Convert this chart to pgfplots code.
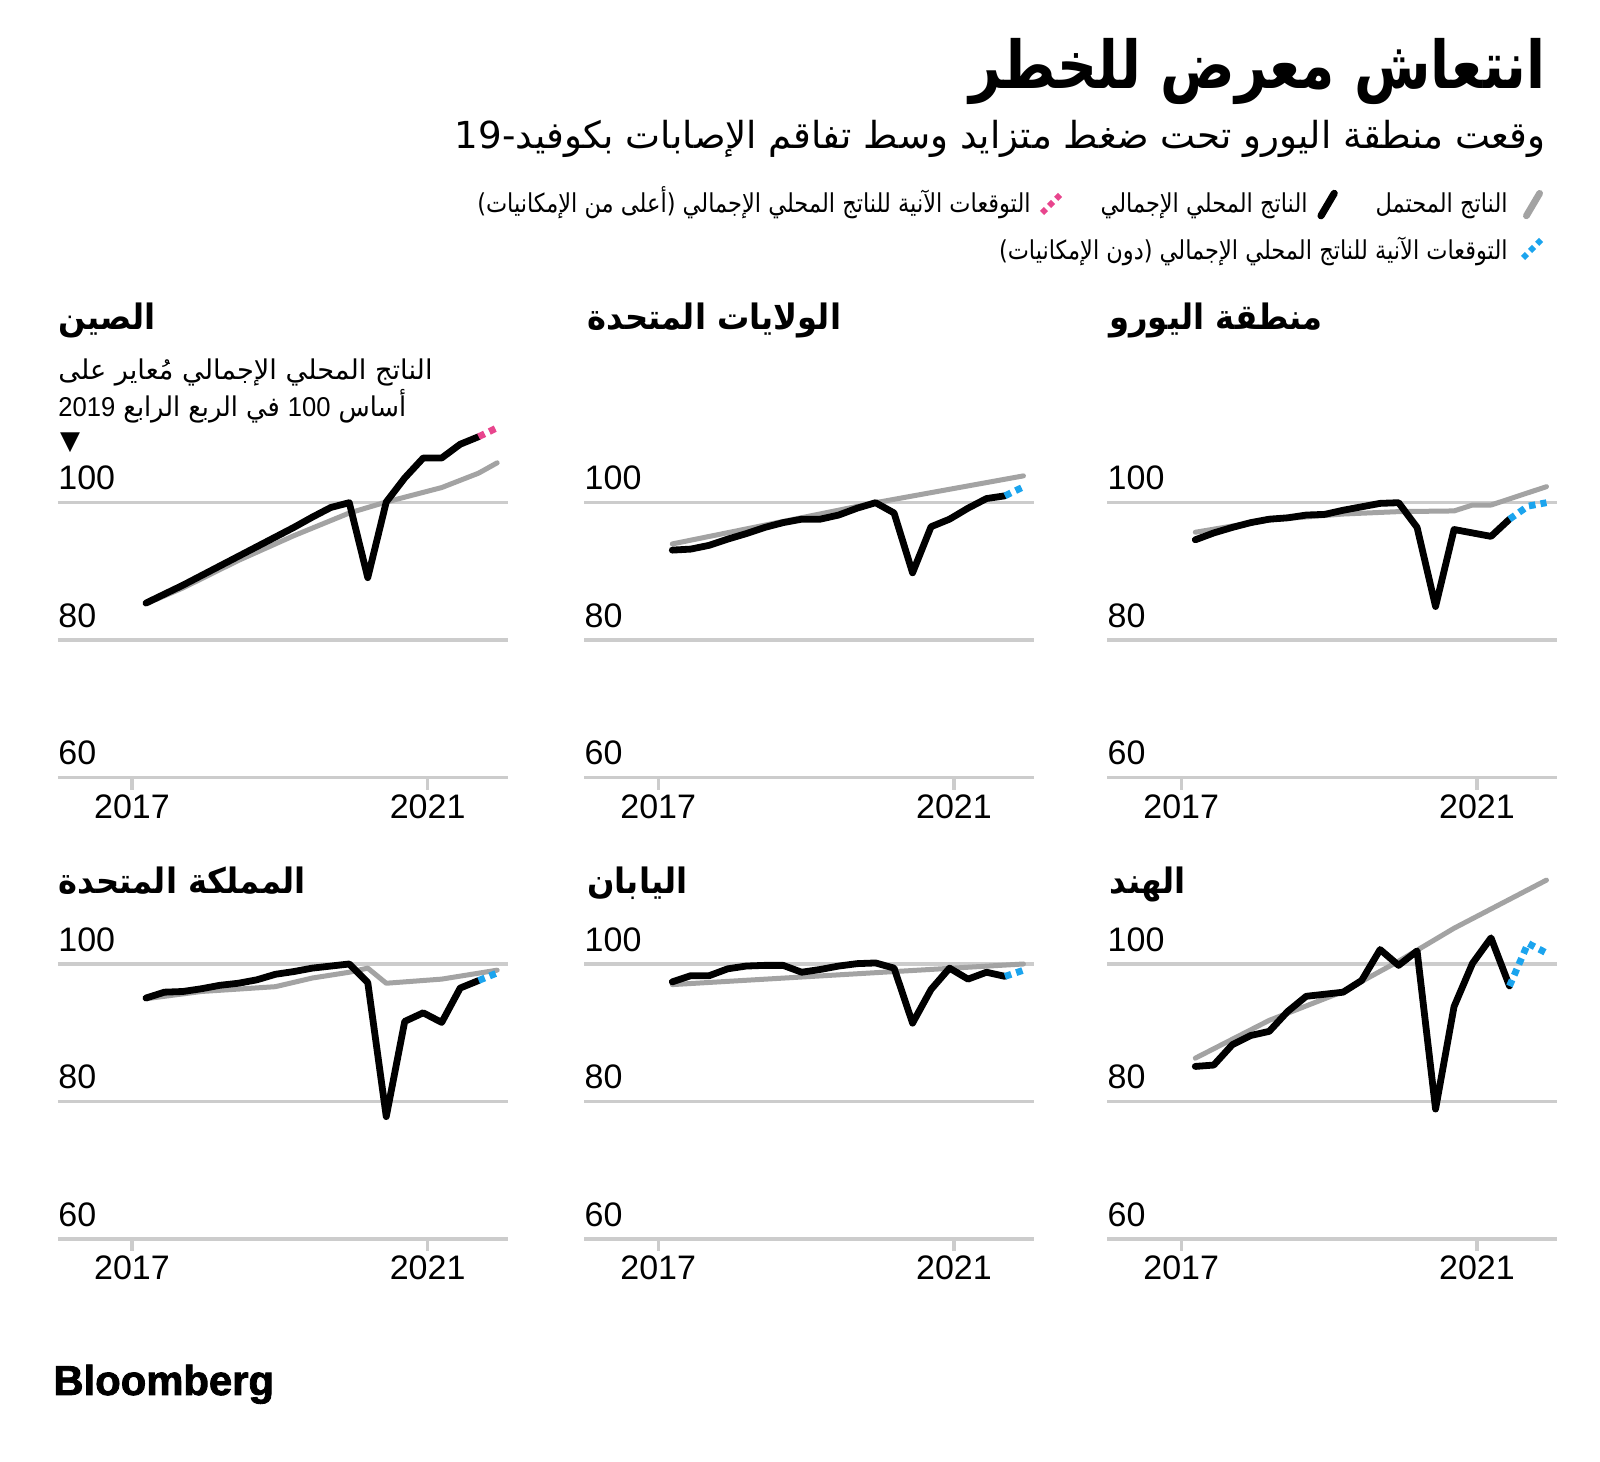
\documentclass[border=0pt]{standalone}
\usepackage{fontspec}
\usepackage{pgfplots}
\pgfplotsset{compat=1.18}
\setmainfont{Liberation Sans}
\newfontfamily\arabicfont[Script=Arabic]{DejaVu Sans}
\newfontfamily\symfont{DejaVu Sans}
\newfontfamily\logofont[UprightFont=* Bold, FakeBold=2]{Liberation Sans}
\TeXXeTstate=1

\definecolor{gridc}{HTML}{CCCCCC}
\definecolor{potc}{HTML}{A3A3A3}
\definecolor{pinkc}{HTML}{E8458D}
\definecolor{bluec}{HTML}{1BA4EE}

% x is the quarter index: 0 = 2017 Q1 ... 19 = 2021 Q4
\pgfplotsset{
  panel/.style={anchor=south west, scale only axis,
    width=224.75pt, height=137.5pt,
    xmin=-4.76, xmax=19.56, ymin=60, ymax=100, clip=false,
    axis line style={draw=none},
    ytick={60,80,100}, yticklabels={}, ymajorgrids,
    major grid style={gridc, line width=1.75pt},
    ytick style={draw=none},
    xtick={-0.76,15.24}, xticklabels={}, xtick pos=left,
    tick align=outside, major tick length=6pt,
    xtick style={gridc, line width=1.65pt}},
  pot/.style={potc, line width=2.5pt, line cap=round, line join=round, no markers},
  gdp/.style={black, line width=3.4pt, line cap=round, line join=round, no markers},
  fcu/.style={pinkc, line width=3.4pt, dash pattern=on 3.3pt off 2.6pt, no markers},
  fcd/.style={bluec, line width=3.4pt, dash pattern=on 3.3pt off 2.6pt, no markers},
}
\tikzset{
  tl/.style={font=\fontsize{17}{17}\selectfont, inner sep=0pt},
  ar/.style={inner sep=0pt},
}
\newcommand\ticklabels{%
  \node[tl, anchor=base west, yshift=6.35pt] at (axis cs:-4.76,100) {100};
  \node[tl, anchor=base west, yshift=6.35pt] at (axis cs:-4.76,80) {80};
  \node[tl, anchor=base west, yshift=6.35pt] at (axis cs:-4.76,60) {60};
  \node[tl, anchor=north, yshift=-8.3pt] at (axis cs:-0.76,60) {2017};
  \node[tl, anchor=north, yshift=-8.3pt] at (axis cs:15.24,60) {2021};
}
\newcommand\ptitle[1]{\scalebox{0.92}[1]{\arabicfont\bfseries\fontsize{17.5}{20}\selectfont\beginR #1\endR}}
\newcommand\legtext[1]{\scalebox{0.865}[1]{\arabicfont\fontsize{13}{15}\selectfont\beginR #1\endR}}

\begin{document}
\begin{tikzpicture}
\path[use as bounding box, fill=white] (0,0) rectangle (800pt,730.5pt);

% header
\node[ar, anchor=base east] at (773pt,686pt)
  {\scalebox{0.84}[1]{\arabicfont\bfseries\fontsize{33}{38}\selectfont\beginR انتعاش معرض للخطر\endR}};
\node[ar, anchor=base east] at (773pt,656.2pt)
  {\arabicfont\fontsize{18.6}{22}\selectfont\beginR وقعت منطقة اليورو تحت ضغط متزايد وسط تفاقم الإصابات بكوفيد-\beginL19\endL\endR};

% legend
\draw[potc, line width=3.4pt, line cap=round] (763.2pt,622.6pt) -- (769.8pt,633.8pt);
\node[ar, anchor=base east] at (754pt,624pt) {\legtext{الناتج المحتمل}};
\draw[black, line width=3.6pt, line cap=round] (660.5pt,622.6pt) -- (667.1pt,633.8pt);
\node[ar, anchor=base east] at (654pt,624pt) {\legtext{الناتج المحلي الإجمالي}};
\draw[pinkc, line width=3pt, dash pattern=on 2.8pt off 2.2pt] (521pt,624pt) -- (530pt,633pt);
\node[ar, anchor=base east] at (515.5pt,624pt) {\legtext{التوقعات الآنية للناتج المحلي الإجمالي (أعلى من الإمكانيات)}};
\draw[bluec, line width=3pt, dash pattern=on 2.8pt off 2.2pt] (761.5pt,601.5pt) -- (770.5pt,610.5pt);
\node[ar, anchor=base east] at (754pt,600.5pt) {\legtext{التوقعات الآنية للناتج المحلي الإجمالي (دون الإمكانيات)}};

% panel titles
\node[ar, anchor=base west] at (29pt,565.9pt) {\ptitle{الصين}};
\node[ar, anchor=base west] at (293.5pt,565.9pt) {\ptitle{الولايات المتحدة}};
\node[ar, anchor=base west] at (554.5pt,565.9pt) {\ptitle{منطقة اليورو}};
\node[ar, anchor=base west] at (29pt,283.9pt) {\ptitle{المملكة المتحدة}};
\node[ar, anchor=base west] at (293.5pt,283.9pt) {\ptitle{اليابان}};
\node[ar, anchor=base west] at (554.5pt,283.9pt) {\ptitle{الهند}};

% note in the China panel
\node[ar, anchor=base west] at (29pt,540.9pt)
  {\arabicfont\fontsize{13.6}{15}\selectfont\beginR الناتج المحلي الإجمالي مُعاير على\endR};
\node[ar, anchor=base west] at (29pt,522.2pt)
  {\scalebox{0.94}[1]{\arabicfont\fontsize{13.6}{15}\selectfont\beginR أساس \beginL{\rmfamily 100}\endL\ في الربع الرابع \beginL{\rmfamily 2019}\endL\endR}};
\node[ar] at (35pt,508.9pt) {\symfont\fontsize{13}{13}\selectfont ▼};

% China
\begin{axis}[panel, at={(29pt,341.65pt)}]
\addplot[pot] coordinates {(0,85.3) (2,87.6) (5,91.6) (8,95.2) (11,98.5) (13,100.1) (16,102.2) (18,104.3) (19,105.8)};
\addplot[gdp] coordinates {(0,85.4) (1,86.7) (2,88.0) (3,89.4) (4,90.8) (5,92.2) (6,93.6) (7,95.0) (8,96.4) (9,97.9) (10,99.3) (11,100) (12,89.1) (13,100.1) (14,103.6) (15,106.5) (16,106.5) (17,108.5) (18,109.6)};
\addplot[fcu] coordinates {(18,109.6) (19,110.9)};
\ticklabels
\end{axis}

% United States
\begin{axis}[panel, at={(292.15pt,341.65pt)}]
\addplot[pot] coordinates {(0,94.0) (11,100.0) (19,103.9)};
\addplot[gdp] coordinates {(0,93.1) (1,93.25) (2,93.8) (3,94.7) (4,95.5) (5,96.4) (6,97.1) (7,97.6) (8,97.6) (9,98.2) (10,99.2) (11,100) (12,98.5) (13,89.8) (14,96.5) (15,97.6) (16,99.2) (17,100.6) (18,101.0)};
\addplot[fcd] coordinates {(18,101.0) (19,102.3)};
\ticklabels
\end{axis}

% Euro area
\begin{axis}[panel, at={(553.65pt,341.65pt)}]
\addplot[pot] coordinates {(0,95.7) (4,97.5) (8,98.35) (11,98.7) (14,98.8) (15,99.66) (16,99.66) (19,102.33)};
\addplot[gdp] coordinates {(0,94.6) (1,95.6) (2,96.4) (3,97.1) (4,97.6) (5,97.8) (6,98.2) (7,98.3) (8,98.9) (9,99.4) (10,99.9) (11,100) (12,96.4) (13,84.9) (14,96.1) (15,95.6) (16,95.1) (17,97.6)};
\addplot[fcd] coordinates {(17,97.6) (18,99.5) (19,100.0)};
\ticklabels
\end{axis}

% United Kingdom
\begin{axis}[panel, at={(29pt,111pt)}]
\addplot[pot] coordinates {(0,94.95) (3,96.0) (7,96.7) (9,97.96) (11,98.8) (12,99.4) (13,97.2) (14,97.4) (16,97.8) (19,99.1)};
\addplot[gdp] coordinates {(0,95.05) (1,95.9) (2,96.0) (3,96.4) (4,96.9) (5,97.2) (6,97.7) (7,98.5) (8,98.9) (9,99.4) (10,99.7) (11,100) (12,97.3) (13,77.8) (14,91.65) (15,92.9) (16,91.5) (17,96.5) (18,97.6)};
\addplot[fcd] coordinates {(18,97.6) (19,98.7)};
\ticklabels
\end{axis}

% Japan
\begin{axis}[panel, at={(292.15pt,111pt)}]
\addplot[pot] coordinates {(0,97.0) (19,100.0)};
\addplot[gdp] coordinates {(0,97.4) (1,98.3) (2,98.3) (3,99.3) (4,99.7) (5,99.8) (6,99.8) (7,98.8) (8,99.2) (9,99.7) (10,100.05) (11,100.15) (12,99.4) (13,91.4) (14,96.3) (15,99.4) (16,97.8) (17,98.8) (18,98.2)};
\addplot[fcd] coordinates {(18,98.2) (19,99.1)};
\ticklabels
\end{axis}

% India
\begin{axis}[panel, at={(553.65pt,111pt)}]
\addplot[pot] coordinates {(0,86.3) (4,91.8) (8,96.0) (11,100.4) (14,105.2) (19,112.2)};
\addplot[gdp] coordinates {(0,85.1) (1,85.3) (2,88.25) (3,89.6) (4,90.2) (5,93.1) (6,95.3) (7,95.6) (8,95.9) (9,97.6) (10,102.1) (11,99.8) (12,101.9) (13,78.9) (14,93.8) (15,100.1) (16,103.8) (17,96.8)};
\addplot[fcd] coordinates {(17,96.8) (18,103.0) (19,101.6)};
\ticklabels
\end{axis}

% logo
\node[inner sep=0pt, anchor=base west] at (26.5pt,33pt)
  {\logofont\fontsize{20.9}{21}\selectfont Bloomberg};
\end{tikzpicture}
\end{document}
